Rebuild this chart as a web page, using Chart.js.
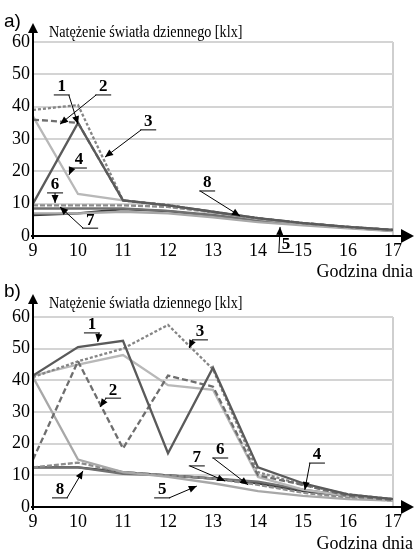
<!DOCTYPE html>
<html><head><meta charset="utf-8">
<script src="https://cdn.jsdelivr.net/npm/chart.js@4/dist/chart.umd.min.js"></script>
<style>
html,body{margin:0;padding:0;background:#fff;width:417px;height:552px;overflow:hidden}
canvas{position:absolute;left:0;top:0}
</style></head><body>
<canvas id="ca" width="417" height="552"></canvas>
<canvas id="cb" width="417" height="552"></canvas>
<script>
// ---- data ----
const hours = [9,10,11,12,13,14,15,16,17];
const yTicks = [0,10,20,30,40,50,60];
const yTitle = 'Natężenie światła dziennego [klx]';
const xTitle = 'Godzina dnia';

// chart a)
const aS1 = [10, 35, 11, 9.5, 7.5, 5.5, 4, 2.8, 1.9];
const aS2 = [36, 35, 11, 9.5, 7.5, 5.5, 4, 2.8, 1.9];
const aS3 = [39, 40.5, 11, 9.6, 7.4, 5.5, 4, 2.8, 1.9];
const aS4 = [37, 13, 11, 9.5, 7.3, 5.3, 3.8, 2.7, 1.8];
const aS5 = [7, 7, 7.5, 7, 5.8, 4.3, 3.3, 2.4, 1.5];
const aS6 = [9.5, 9.5, 9.5, 9, 7.3, 5.5, 4, 2.8, 1.8];
const aS7 = [8.5, 8.5, 8.5, 7.8, 6.5, 5, 3.6, 2.6, 1.6];
const aS8 = [6.5, 7, 8.3, 7.7, 6.2, 4.8, 3.6, 2.6, 1.7];

// chart b)
const bS1 = [41.5, 50.5, 52.5, 17, 44, 12.5, 7.5, 4, 2.5];
const bS2 = [15, 46, 18.5, 41.5, 38, 10, 7, 3.5, 2.2];
const bS3 = [41, 46, 50, 57.5, 43.5, 11, 7, 4, 2.5];
const bS4 = [41.5, 45, 48, 38.5, 37, 9.5, 5.5, 3.5, 2.2];
const bS5 = [41, 15, 11, 9.5, 7.5, 5, 3.5, 2.5, 2];
const bS6 = [12.5, 14, 11, 10, 9, 7, 4.5, 3, 2];
const bS7 = [12.5, 12.5, 10.5, 10, 9, 8, 5.5, 3.5, 2.2];
const bS8 = [12.5, 12.5, 11, 10, 9, 7.5, 5, 3.5, 2.5];

// numbered callouts (text centre and arrow tip in data units)
const calloutsA = [
  {t:'1', lx:9.64, ly:46.1, tx:10.0, ty:34.6, s:'r'},
  {t:'2', lx:10.56, ly:46.1, tx:9.6, ty:34.6, s:'l'},
  {t:'3', lx:11.56, ly:35.3, tx:10.6, ty:24.4, s:'l'},
  {t:'4', lx:10.02, ly:23.5, tx:9.8, ty:18.9, s:'l'},
  {t:'6', lx:9.49, ly:15.8, tx:9.49, ty:10.2, s:'c'},
  {t:'7', lx:10.27, ly:4.9, tx:9.6, ty:9.0, s:'l'},
  {t:'8', lx:12.87, ly:16.4, tx:13.6, ty:6.2, s:'l'},
  {t:'5', lx:14.62, ly:-2.6, tx:14.49, ty:2.8, s:'l'}
];
const calloutsB = [
  {t:'1', lx:10.31, ly:57.5, tx:10.44, ty:52.1, s:'r'},
  {t:'3', lx:12.71, ly:55.3, tx:12.47, ty:50.2, s:'l'},
  {t:'2', lx:10.78, ly:36.9, tx:10.49, ty:31.6, s:'l'},
  {t:'8', lx:9.6, ly:5.4, tx:10.11, ty:11.4, s:'r'},
  {t:'5', lx:11.87, ly:5.4, tx:12.64, ty:6.6, s:'r'},
  {t:'7', lx:12.64, ly:15.5, tx:13.27, ty:8.2, s:'l'},
  {t:'6', lx:13.16, ly:18, tx:13.78, ty:7, s:'l'},
  {t:'4', lx:15.31, ly:16.4, tx:15.04, ty:5.4, s:'l'}
];

const styles = [
  {c:'#5a5a5a', d:[]},
  {c:'#6e6e6e', d:[6,3]},
  {c:'#858585', d:[3,2]},
  {c:'#b8b8b8', d:[]},
  {c:'#a8a8a8', d:[]},
  {c:'#8c8c8c', d:[5,2]},
  {c:'#707070', d:[]},
  {c:'#3a3a3a', d:[]}
];

function mkSets(arrs){
  return arrs.map((vals,i)=>({
    label: String(i+1),
    data: hours.map((h,j)=>({x:h, y:vals[j]})),
    borderColor: styles[i].c,
    borderDash: styles[i].d,
    borderWidth: 2.3,
    pointRadius: 0,
    tension: 0,
    fill: false
  }));
}

const deco = {
  id: 'deco',
  afterDatasetsDraw(chart, args, o){
    const ctx = chart.ctx, xs = chart.scales.x, ys = chart.scales.y;
    const ca = chart.chartArea;
    ctx.save();
    // axes
    ctx.strokeStyle = '#000'; ctx.fillStyle = '#000'; ctx.lineWidth = 2;
    ctx.beginPath();
    ctx.moveTo(ca.left, ca.bottom + 3); ctx.lineTo(ca.left, o.arrowTop + 8);
    ctx.moveTo(ca.left - 2, ca.bottom); ctx.lineTo(403, ca.bottom);
    ctx.stroke();
    ctx.beginPath();
    ctx.moveTo(ca.left, o.arrowTop); ctx.lineTo(ca.left - 5, o.arrowTop + 10); ctx.lineTo(ca.left + 5, o.arrowTop + 10); ctx.closePath(); ctx.fill();
    ctx.beginPath();
    ctx.moveTo(414, ca.bottom); ctx.lineTo(401, ca.bottom - 7); ctx.lineTo(401, ca.bottom + 7); ctx.closePath(); ctx.fill();
    // titles
    ctx.textBaseline = 'alphabetic';
    ctx.textAlign = 'left';
    ctx.font = '19px "Liberation Sans"';
    ctx.fillText(o.letter, 4, o.letterY);
    ctx.save();
    ctx.translate(49, o.titleY);
    ctx.scale(0.86, 1);
    ctx.font = '16.5px "Liberation Serif"';
    ctx.fillText(yTitle, 0, 0);
    ctx.restore();
    ctx.textAlign = 'right';
    ctx.font = '18px "Liberation Serif"';
    ctx.fillText(xTitle, 413, o.xTitleY);
    // callouts
    ctx.lineWidth = 1;
    ctx.font = 'bold 17px "Liberation Serif"';
    ctx.textAlign = 'center'; ctx.textBaseline = 'middle';
    for (const c of o.callouts){
      const px = xs.getPixelForValue(c.lx), py = ys.getPixelForValue(c.ly);
      const tx = xs.getPixelForValue(c.tx), ty = ys.getPixelForValue(c.ty);
      ctx.fillText(c.t, px, py);
      const uy = py + 8;
      ctx.beginPath(); ctx.moveTo(px - 8, uy); ctx.lineTo(px + 8, uy); ctx.stroke();
      const sx = c.s === 'l' ? px - 7 : (c.s === 'r' ? px + 7 : px);
      const sy = uy;
      ctx.beginPath(); ctx.moveTo(sx, sy); ctx.lineTo(tx, ty); ctx.stroke();
      const ang = Math.atan2(ty - sy, tx - sx);
      ctx.beginPath();
      ctx.moveTo(tx, ty);
      ctx.lineTo(tx - 8*Math.cos(ang) + 3.5*Math.sin(ang), ty - 8*Math.sin(ang) - 3.5*Math.cos(ang));
      ctx.lineTo(tx - 8*Math.cos(ang) - 3.5*Math.sin(ang), ty - 8*Math.sin(ang) + 3.5*Math.cos(ang));
      ctx.closePath(); ctx.fill();
    }
    ctx.restore();
  }
};

function mkChart(id, sets, padTop, padBottom, o){
  return new Chart(document.getElementById(id), {
    type: 'line',
    data: { datasets: mkSets(sets) },
    plugins: [deco],
    options: {
      responsive: false, animation: false,
      layout: { padding: { top: padTop, bottom: padBottom, left: 0, right: 24 } },
      plugins: { legend: {display:false}, tooltip: {enabled:false}, deco: o },
      scales: {
        x: {
          type: 'linear', min: hours[0], max: hours[hours.length-1],
          afterFit(s){ s.height = 40; },
          afterBuildTicks(s){ s.ticks = hours.map(v=>({value:v})); },
          grid: { drawTicks: false, color: c => (c.tick && c.tick.value === 17) ? '#cfcfcf' : 'rgba(0,0,0,0)', lineWidth: 2 },
          border: { display: false },
          ticks: { padding: 4, color: '#000', font: { family: 'Liberation Serif', size: 18 }, maxRotation: 0 }
        },
        y: {
          min: 0, max: 60,
          afterFit(s){ s.width = 33; },
          afterBuildTicks(s){ s.ticks = yTicks.map(v=>({value:v})); },
          grid: { drawTicks: false, color: '#d4d4d4', lineWidth: 2 },
          border: { display: false },
          ticks: { padding: 3, color: '#000', font: { family: 'Liberation Serif', size: 18 } }
        }
      }
    }
  });
}

mkChart('ca', [aS1,aS2,aS3,aS4,aS5,aS6,aS7,aS8], 42, 276,
  {letter:'a)', letterY:27, titleY:37, xTitleY:277, arrowTop:23, callouts:calloutsA});
mkChart('cb', [bS1,bS2,bS3,bS4,bS5,bS6,bS7,bS8], 317, 5,
  {letter:'b)', letterY:297, titleY:308, xTitleY:549, arrowTop:294, callouts:calloutsB});
</script>
</body></html>
